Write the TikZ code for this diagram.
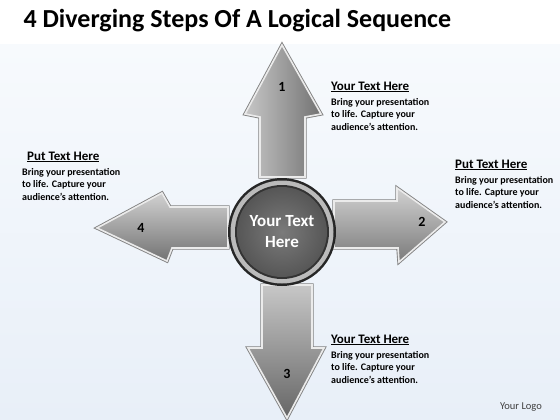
\documentclass[tikz,border=0pt]{standalone}
\usepackage{fontspec}
\setmainfont{Carlito}
\usetikzlibrary{positioning}
\definecolor{bgtop}{RGB}{247,250,253}
\definecolor{bgbot}{RGB}{232,239,248}
\definecolor{rimgray}{RGB}{130,130,130}
\definecolor{hubgray}{RGB}{108,108,108}
\tikzset{
  arrowrim/.style={draw=rimgray, line width=3.4pt, line join=miter},
  arrowbody/.style={draw=white!92!black, line width=1.6pt, line join=miter},
  steplabel/.style={font=\bfseries\fontsize{14}{14}\selectfont, text=black},
  headtext/.style={font=\bfseries\fontsize{13}{15}\selectfont, anchor=west, inner sep=0pt},
  bodytext/.style={font=\bfseries\fontsize{10}{12.5}\selectfont, align=left, anchor=north west, inner sep=0pt},
}
\begin{document}
\begin{tikzpicture}[x=1pt,y=-1pt]
\useasboundingbox (0,0) rectangle (560,420);
% background
\fill[white] (0,0) rectangle (560,420);
\shade[top color=bgtop, bottom color=bgbot] (0,45) rectangle (560,420);

\node[anchor=west, font=\bfseries\fontsize{26}{26}\selectfont] (title) at (20,21) {4 Diverging Steps Of A Logical Sequence};

% arrow 1 (up)
\draw[arrowrim] (260,177) -- (260,117) -- (245,114) -- (282,45) -- (321,114) -- (305,117) -- (305,177) -- cycle;
\shade[arrowbody, left color=black!22, right color=black!55] (260,177) -- (260,117) -- (245,114) -- (282,45) -- (321,114) -- (305,117) -- (305,177) -- cycle;
\node[steplabel] (n1) at (282,87) {1};

% arrow 2 (right)
\draw[arrowrim] (334,201) -- (397,201) -- (397,188) -- (445,222) -- (399,262) -- (398,248) -- (334,248) -- cycle;
\shade[arrowbody, top color=black!18, bottom color=black!52] (334,201) -- (397,201) -- (397,188) -- (445,222) -- (399,262) -- (398,248) -- (334,248) -- cycle;
\node[steplabel] (n2) at (422,222) {2};

% arrow 3 (down)
\draw[arrowrim] (262,285) -- (312,285) -- (312,348) -- (324,348) -- (287,418) -- (248,348) -- (262,348) -- cycle;
\shade[arrowbody, top color=black!22, bottom color=black!60] (262,285) -- (312,285) -- (312,348) -- (324,348) -- (287,418) -- (248,348) -- (262,348) -- cycle;
\node[steplabel] (n3) at (287,374) {3};

% arrow 4 (left)
\draw[arrowrim] (228,207) -- (170,207) -- (162,193) -- (97,228) -- (167,261) -- (172,248) -- (228,248) -- cycle;
\shade[arrowbody, top color=black!18, bottom color=black!55] (228,207) -- (170,207) -- (162,193) -- (97,228) -- (167,261) -- (172,248) -- (228,248) -- cycle;
\node[steplabel] (n4) at (141,228) {4};

% hub
\fill[black!85] (282,232) circle (54);
\shade[inner color=gray!20, outer color=gray!55] (282,232) circle (51.5);
\fill[black!80] (282,232) circle (47);
\shade[inner color=hubgray!90!white, outer color=hubgray!80!black] (282,232) circle (45);
\node[font=\bfseries\fontsize{17}{21}\selectfont, text=white, align=center] (hub) at (282,232) {Your Text\\Here};

% texts
\node[headtext] (h1) at (331,87) {\underline{Your Text Here}};
\node[bodytext] (b1) at (331,98) {Bring your presentation\\to life. Capture your\\audience’s attention.};

\node[headtext] (h4) at (27,157) {\underline{Put Text Here}};
\node[bodytext] (b4) at (22,168) {Bring your presentation\\to life. Capture your\\audience’s attention.};

\node[headtext] (h2) at (455,165) {\underline{Put Text Here}};
\node[bodytext] (b2) at (455,176) {Bring your presentation\\to life. Capture your\\audience’s attention.};

\node[headtext] (h3) at (331,340) {\underline{Your Text Here}};
\node[bodytext] (b3) at (331,351) {Bring your presentation\\to life. Capture your\\audience’s attention.};

\node[font=\fontsize{10.5}{10.5}\selectfont, text=black!75] (logo) at (521,407) {Your Logo};
\end{tikzpicture}
\end{document}
